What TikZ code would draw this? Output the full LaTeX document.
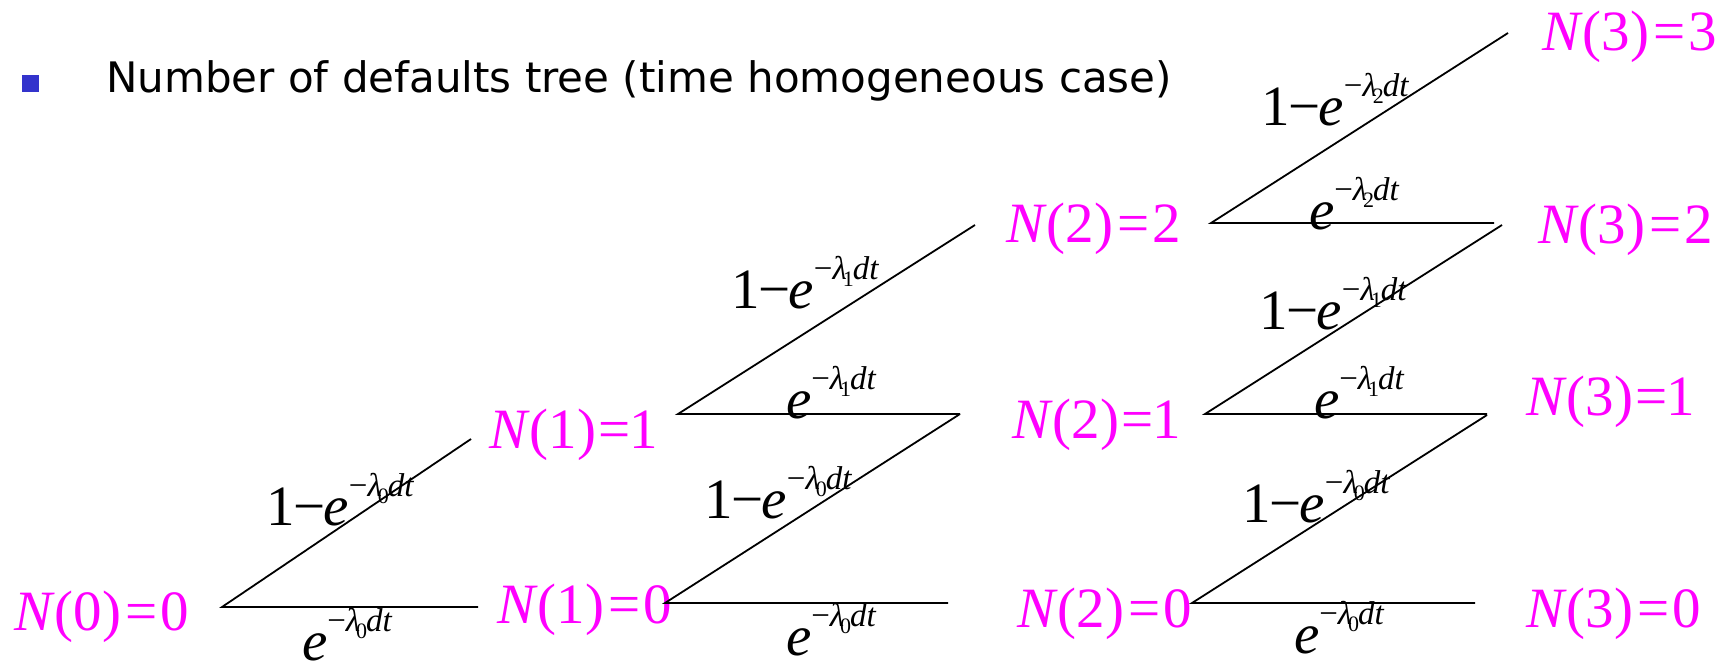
\documentclass[tikz,border=0pt]{standalone}
\usepackage{fontspec}
\setmainfont{Liberation Serif}
\newfontfamily\titlefont{DejaVu Sans}
\definecolor{nodemag}{RGB}{255,0,255}
\definecolor{bulletblue}{RGB}{51,51,204}
\newcommand{\eqs}{\kern4pt=\kern3pt}
\newcommand{\eqone}{\kern2pt=\kern-1pt}
\newcommand{\ex}[1]{\textit{e}\raisebox{29pt}{\fontsize{33}{33}\selectfont −\textit{λ}\kern-4pt\raisebox{-7pt}{\fontsize{22}{22}\selectfont #1}\kern-1pt\textit{dt}}}
\newcommand{\ome}[1]{1\kern-1pt−\kern-2pt\ex{#1}}
\tikzset{
  state/.style={text=nodemag, inner sep=0pt, outer sep=0pt, anchor=base west, font=\fontsize{57}{60}\selectfont},
  prob/.style={inner sep=0pt, outer sep=0pt, anchor=base west, font=\fontsize{57}{60}\selectfont},
  branch/.style={line width=1.8pt, black},
}
\begin{document}
\begin{tikzpicture}[x=1pt,y=-1pt]
\useasboundingbox[fill=white] (0,0) rectangle (1721,664);
% title
\node[fill=bulletblue, minimum size=17pt, inner sep=0pt, anchor=north west] (bullet) at (22,75) {};
\node[inner sep=0pt, anchor=base west, font=\titlefont\fontsize{42}{45}\selectfont] (title) at (106,92) {Number of defaults tree (time homogeneous case)};
% states
\node[state] (n00) at (14,630) {\textit{N}(0)\eqs 0};
\node[state] (n11) at (489,448) {\textit{N}(1)\eqone 1};
\node[state] (n10) at (497,623) {\textit{N}(1)\eqs 0};
\node[state] (n22) at (1006,242) {\textit{N}(2)\eqs 2};
\node[state] (n21) at (1012,438) {\textit{N}(2)\eqone 1};
\node[state] (n20) at (1017,627) {\textit{N}(2)\eqs 0};
\node[state] (n33) at (1542,50) {\textit{N}(3)\eqs 3};
\node[state] (n32) at (1538,243) {\textit{N}(3)\eqs 2};
\node[state] (n31) at (1526,415) {\textit{N}(3)\eqone 1};
\node[state] (n30) at (1526,627) {\textit{N}(3)\eqs 0};
% branch points
\coordinate (a0) at (222,607);
\coordinate (a0u) at (471,439);
\coordinate (a0h) at (478,607);
\coordinate (b1) at (678,414);
\coordinate (b1u) at (975,225);
\coordinate (b1h) at (960,414);
\coordinate (b0) at (665,603);
\coordinate (b0h) at (948,603);
\coordinate (c2) at (1211,223);
\coordinate (c2u) at (1508,33);
\coordinate (c2h) at (1494,223);
\coordinate (c1) at (1205,414);
\coordinate (c1u) at (1502,225);
\coordinate (c1h) at (1487,414);
\coordinate (c0) at (1192,603);
\coordinate (c0u) at (1487,415);
\coordinate (c0h) at (1475,603);
% connectors
\draw[branch] (a0u) -- (a0) -- (a0h);
\draw[branch] (b1u) -- (b1) -- (b1h);
\draw[branch] (b1h) -- (b0) -- (b0h);
\draw[branch] (c2u) -- (c2) -- (c2h);
\draw[branch] (c1u) -- (c1) -- (c1h);
\draw[branch] (c0u) -- (c0) -- (c0h);
% probabilities
\node[prob] (pu0) at (266,525) {\ome{0}};
\node[prob] (ph0) at (302,660) {\ex{0}};
\node[prob] (pu11) at (731,308) {\ome{1}};
\node[prob] (ph11) at (786,418) {\ex{1}};
\node[prob] (pu10) at (704,518) {\ome{0}};
\node[prob] (ph10) at (786,655) {\ex{0}};
\node[prob] (pu22) at (1261,125) {\ome{2}};
\node[prob] (ph22) at (1309,229) {\ex{2}};
\node[prob] (pu21) at (1259,329) {\ome{1}};
\node[prob] (ph21) at (1314,418) {\ex{1}};
\node[prob] (pu20) at (1242,522) {\ome{0}};
\node[prob] (ph20) at (1294,653) {\ex{0}};
\end{tikzpicture}
\end{document}
